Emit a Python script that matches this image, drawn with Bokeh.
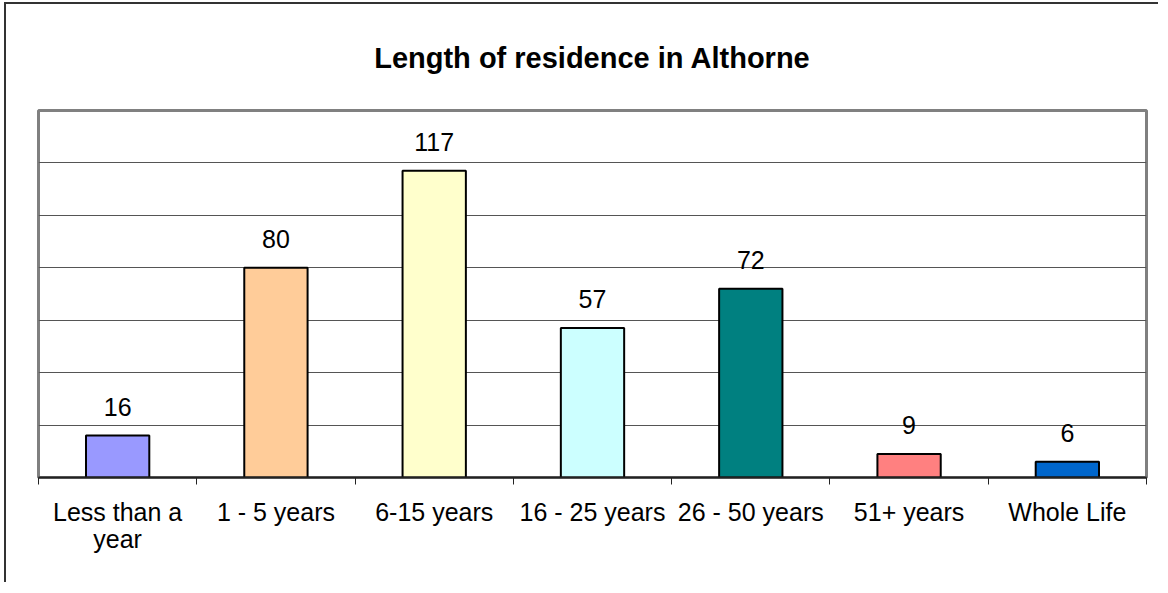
from bokeh.plotting import figure
from bokeh.models import (ColumnDataSource, Range1d, LinearAxis, FixedTicker, Grid)
from bokeh.core.properties import value
from bokeh.embed import file_html
from bokeh.resources import INLINE

title_text = "Length of residence in Althorne"
categories = ["Less than a year", "1 - 5 years", "6-15 years", "16 - 25 years",
              "26 - 50 years", "51+ years", "Whole Life"]
label_lines = {"Less than a year": "Less than a\nyear"}
values = [16, 80, 117, 57, 72, 9, 6]
colors = ["#9999FF", "#FFCC99", "#FFFFCC", "#CCFFFF", "#008080", "#FF8080", "#0066CC"]
y_ticks = [0, 20, 40, 60, 80, 100, 120, 140]

FONT = "Liberation Sans"

n = len(categories)
centers = [i + 0.5 for i in range(n)]
edges = list(range(n + 1))

src = ColumnDataSource(dict(x=centers, cat=categories, val=values, color=colors,
                            label=[str(v) for v in values]))

p = figure(width=1154, height=580, output_backend="svg", toolbar_location=None,
           x_range=Range1d(0, n),
           y_range=Range1d(y_ticks[0], y_ticks[-1]),
           x_axis_location=None, y_axis_location=None,
           min_border_left=32, min_border_right=14, min_border_top=106,
           min_border_bottom=107)
p.margin = (2, 0, 0, 4)
p.styles = {"border-top": "2px solid #333333", "border-left": "2px solid #333333"}

# remove default grids
p.center = [r for r in p.center if not isinstance(r, Grid)]

p.title.text = title_text
p.title.text_font = FONT
p.title.text_font_size = "29px"
p.title.text_font_style = "bold"
p.title.align = "center"
p.title.vertical_align = "top"
p.title.text_color = "black"
p.title.standoff = 70

p.outline_line_color = "#808080"
p.outline_line_width = 3
p.background_fill_color = "white"
p.border_fill_color = "white"

# horizontal gridlines
grid = Grid(dimension=1, ticker=FixedTicker(ticks=y_ticks[1:-1]),
            grid_line_color="#555555", grid_line_width=1)
p.add_layout(grid)

xaxis = LinearAxis(ticker=FixedTicker(ticks=centers, minor_ticks=edges),
                   axis_line_color="#222222", axis_line_width=2,
                   major_tick_line_color=None,
                   minor_tick_line_color="#222222", minor_tick_line_width=1,
                   minor_tick_in=0, minor_tick_out=7,
                   major_label_text_font=FONT, major_label_text_font_size="25px",
                   major_label_text_color="black", major_label_standoff=13,
                   major_label_text_line_height=0.98)
xaxis.major_label_overrides = {c: label_lines.get(name, name)
                               for c, name in zip(centers, categories)}
p.add_layout(xaxis, "below")

p.vbar(x="x", top="val", width=0.4, fill_color="color", line_color="black",
       line_width=2, source=src)

p.text(x="x", y="val", text="label", text_align="center", text_baseline="alphabetic",
       y_offset=-29, text_font=value(FONT), text_font_size="25px", text_color="black",
       source=src)

open("out.html", "w").write(file_html(p, INLINE))
